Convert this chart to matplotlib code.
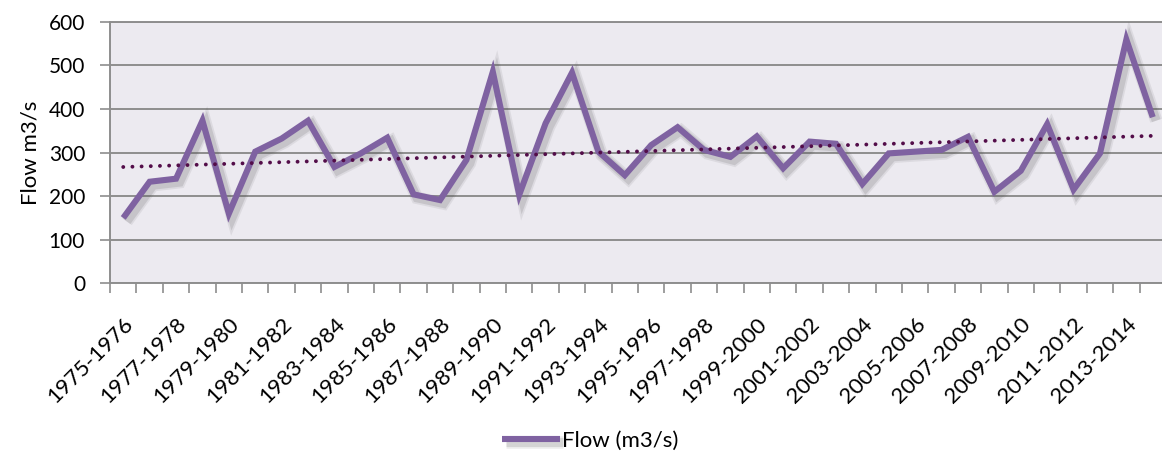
import matplotlib.pyplot as plt
import matplotlib.patheffects as pe
import numpy as np

plt.rcParams['font.family'] = ['Lato', 'DejaVu Sans']

# water years and mean annual flow
years = [f"{y}-{y + 1}" for y in range(1975, 2015)]
flow = [150, 233, 240, 373, 160, 302, 332, 373, 267, 298,
        334, 204, 191, 283, 485, 203, 367, 483, 302, 248,
        317, 358, 306, 290, 337, 264, 325, 320, 228, 298,
        302, 306, 336, 210, 258, 365, 215, 298, 559, 381]

line_color = '#7F62A1'
trend_color = '#530D49'
grid_color = '#8E8E8E'

fig = plt.figure(figsize=(11.62, 4.57), dpi=100)
ax = fig.add_axes([0.0947, 0.380, 0.9087, 0.5725])
ax.set_facecolor('#ECEAF0')

x = np.arange(len(flow))
shadow = [pe.SimpleLineShadow(offset=(2.5, -2.5), shadow_color='#555555', alpha=0.10, linewidth=9),
          pe.SimpleLineShadow(offset=(2.5, -2.5), shadow_color='#555555', alpha=0.16, linewidth=6.5),
          pe.Normal()]
ax.plot(x, flow, color=line_color, lw=4.4, solid_joinstyle='miter', solid_capstyle='butt',
        label='Flow (m3/s)', path_effects=shadow, zorder=3)

# linear trend
k, b = np.polyfit(x, flow, 1)
ax.plot(x, k * x + b, color=trend_color, lw=2.8, linestyle=(0, (0.01, 2.35)),
        dash_capstyle='round', zorder=4)

ax.set_xlim(-0.5, len(flow) - 0.5)
ax.set_ylim(0, 600)
ax.set_yticks(range(0, 601, 100))
ax.yaxis.grid(True, color=grid_color, lw=1.4)
ax.set_axisbelow(True)

ax.set_xticks(x[::2])
ax.set_xticklabels(years[::2], rotation=45, ha='right', va='top', rotation_mode='anchor', fontsize=16)
ax.set_xticks(np.arange(-0.5, len(flow)), minor=True)
ax.tick_params(axis='x', which='major', length=0, pad=22)
ax.tick_params(axis='x', which='minor', length=7, width=1.2, color=grid_color, direction='out')
ax.tick_params(axis='y', length=7, width=1.2, color=grid_color, pad=11, labelsize=15)

ax.spines['right'].set_visible(False)
for side in ['left', 'bottom', 'top']:
    ax.spines[side].set_color(grid_color)
    ax.spines[side].set_linewidth(1.4)

ax.set_ylabel('Flow m3/s', fontsize=16, labelpad=6)

fig.legend(handles=[ax.lines[0]], labels=['Flow (m3/s)'], loc='center', bbox_to_anchor=(0.508, 0.036),
           frameon=False, fontsize=16, handlelength=2.6, handletextpad=0.1)

fig.savefig('out.png', dpi=100)
